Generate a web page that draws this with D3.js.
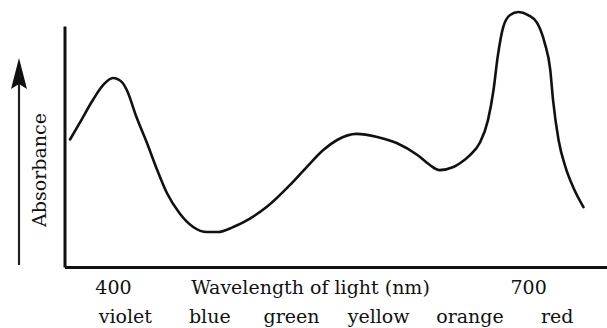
<!DOCTYPE html>
<html>
<head>
<meta charset="utf-8">
<script src="https://cdn.jsdelivr.net/npm/d3@7"></script>
<style>
  body { margin: 0; background: #fff; }
  svg { display: block; }
</style>
</head>
<body>
<div id="viz-container"></div>
<script>
// absorbance spectrum, values (arbitrary units, big peak = 1)
let wavelengths = [369, 376, 385.5, 393, 400, 406.5, 410, 417, 424.6, 432, 439, 448, 458, 468, 476,
  487, 499, 511, 528, 540, 552, 562, 576, 591, 605, 620, 629, 636, 646, 651,
  658, 665, 671, 675, 678, 682, 687, 693, 700, 706.5, 712, 716, 718, 722, 727, 732.5, 740];
let absorbance = [0.50, 0.565, 0.655, 0.714, 0.741, 0.725, 0.694, 0.588, 0.486, 0.38, 0.29, 0.212, 0.157, 0.137, 0.137,
  0.157, 0.19, 0.235, 0.322, 0.392, 0.459, 0.498, 0.522, 0.51, 0.486, 0.439, 0.40, 0.38, 0.392, 0.408,
  0.439, 0.486, 0.576, 0.694, 0.824, 0.941, 0.988, 1.0, 0.988, 0.957, 0.878, 0.773, 0.655, 0.498, 0.392, 0.314, 0.235];

let tickValues = [400, 700];
let colorNames = ["violet", "blue", "green", "yellow", "orange", "red"];
let colorCenters = [409, 470, 529, 592, 658, 721];

let xTitle = "Wavelength of light (nm)";
let yTitle = "Absorbance";

let w = 607;
let h = 328;
let font = "'DejaVu Serif', 'Liberation Serif', serif";

let viz = d3.select("#viz-container")
  .append("svg")
    .attr("id", "viz")
    .attr("width", w)
    .attr("height", h)
;

let x = d3.scaleLinear().domain([365, 757]).range([64.5, 607]);
let y = d3.scaleLinear().domain([0, 0.945]).range([267, 26]);

let points = wavelengths.map(function(d, i){
  return {nm: d, a: absorbance[i]};
});

// axes
let xAxis = viz.append("g")
    .attr("transform", "translate(0," + y(0) + ")")
    .call(d3.axisBottom(x).tickValues(tickValues).tickSize(0).tickSizeOuter(0).tickFormat(d3.format("d")))
;
xAxis.select(".domain")
  .attr("stroke", "#111")
  .attr("stroke-width", 3)
;
xAxis.selectAll("text")
  .attr("dy", null)
  .attr("y", 27)
  .attr("fill", "#111")
  .attr("font-size", 19)
  .attr("font-family", font)
;

let yAxis = viz.append("g")
    .attr("transform", "translate(" + x(365) + ",0)")
    .call(d3.axisLeft(y).tickValues([]).tickSizeOuter(0))
;
yAxis.select(".domain")
  .attr("stroke", "#111")
  .attr("stroke-width", 3)
;

// x title sits on the tick label row
viz.append("text")
  .text(xTitle)
    .attr("x", 310.5)
    .attr("y", 294)
    .attr("text-anchor", "middle")
    .attr("font-size", 19)
    .attr("font-family", font)
    .attr("fill", "#111")
;

// colour names row
viz.selectAll(".colorname").data(colorNames).enter()
  .append("text")
    .attr("class", "colorname")
    .text(function(d){ return d; })
    .attr("x", function(d, i){ return x(colorCenters[i]); })
    .attr("y", 323)
    .attr("text-anchor", "middle")
    .attr("font-size", 19)
    .attr("font-family", font)
    .attr("fill", "#111")
;

// y title with arrow
viz.append("text")
  .text(yTitle)
    .attr("transform", "translate(46,170) rotate(-90)")
    .attr("text-anchor", "middle")
    .attr("font-size", 19)
    .attr("font-family", font)
    .attr("fill", "#111")
;
viz.append("line")
  .attr("x1", 19)
  .attr("y1", 265)
  .attr("x2", 19)
  .attr("y2", 80)
  .attr("stroke", "#222")
  .attr("stroke-width", 2.2)
;
viz.append("path")
  .attr("d", "M19,58 L27,89 L19,84 L11,89 Z")
  .attr("fill", "#111")
;

// spectrum curve
let line = d3.line()
  .x(function(d){ return x(d.nm); })
  .y(function(d){ return y(d.a); })
  .curve(d3.curveMonotoneX)
;
viz.append("path")
  .datum(points)
  .attr("d", line)
  .attr("fill", "none")
  .attr("stroke", "#111")
  .attr("stroke-width", 2.6)
  .attr("stroke-linecap", "round")
;
</script>
</body>
</html>
